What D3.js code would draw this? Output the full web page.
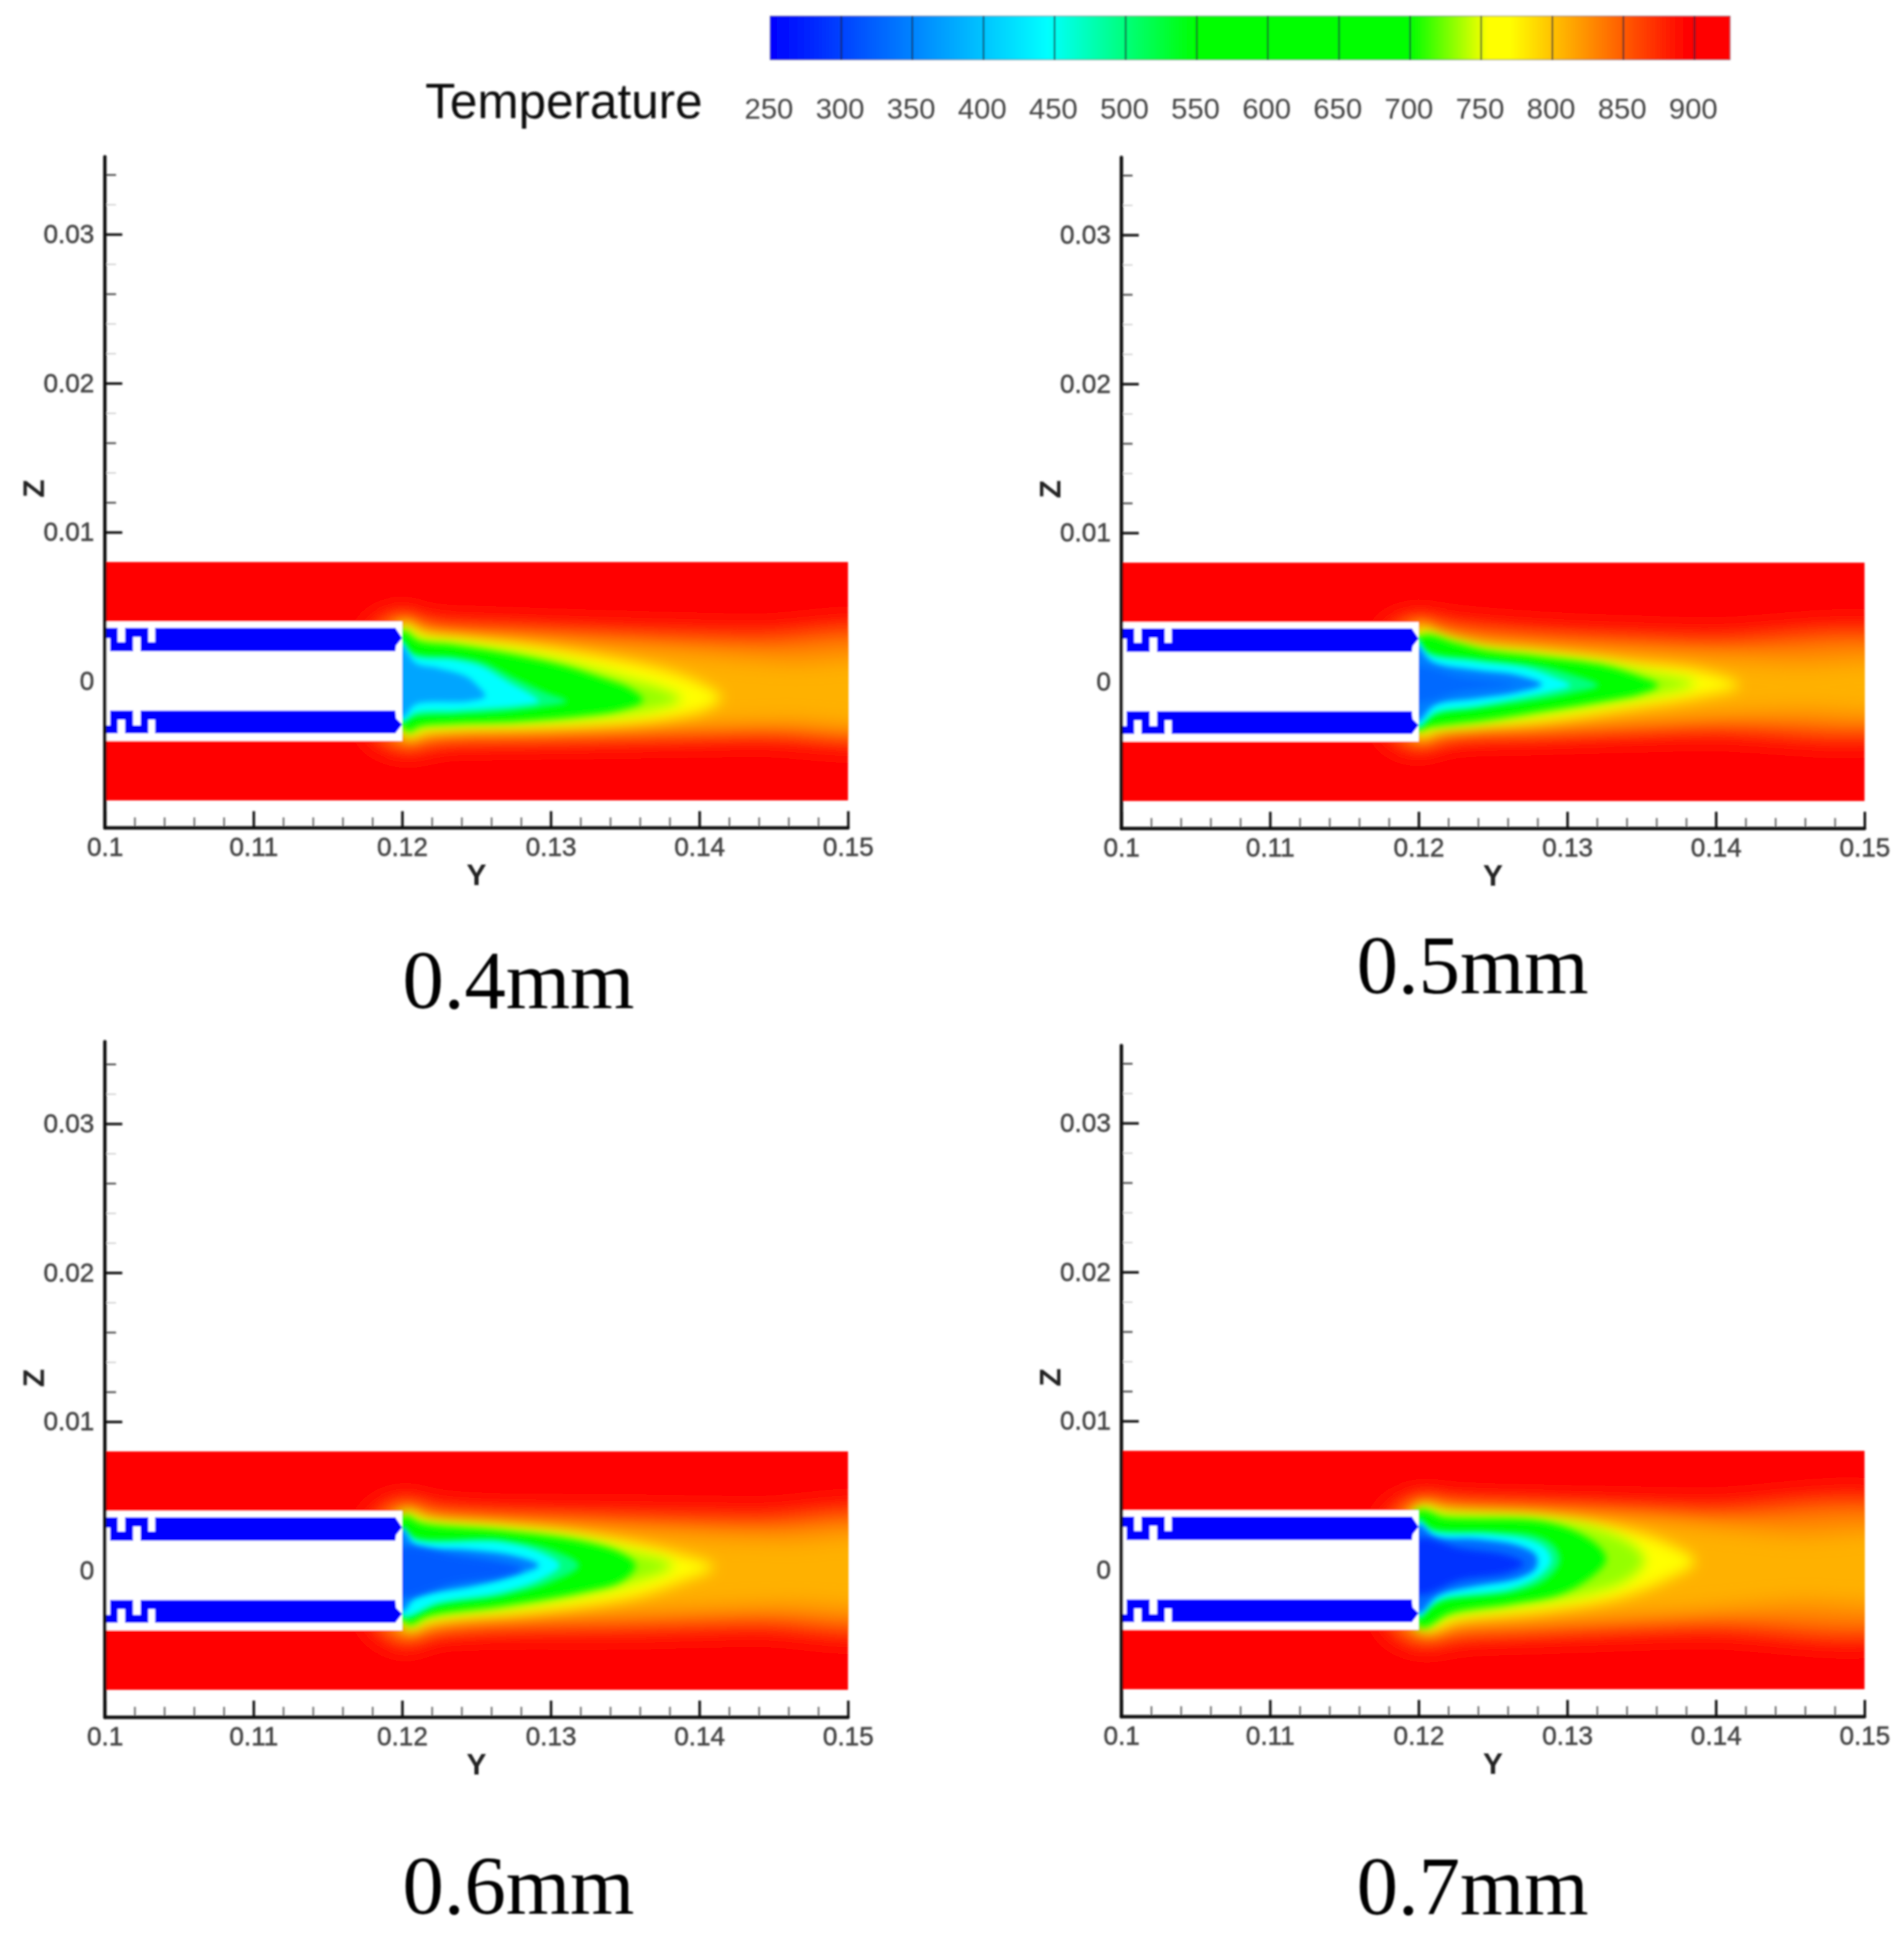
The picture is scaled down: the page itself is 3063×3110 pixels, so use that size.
<!DOCTYPE html>
<html><head><meta charset="utf-8">
<script src="https://cdn.jsdelivr.net/npm/d3@7"></script>
<style>html,body{margin:0;padding:0;background:#fff}svg{display:block}</style>
</head><body><div id="chart"></div>
<script>
// ---------- data ----------
const legendTicks=[250,300,350,400,450,500,550,600,650,700,750,800,850,900];
const legendMax=925;
const colorKnotsT=[250,445,550,700,755,770,895];
const colorKnotsC=["#0000ff","#00ffff","#00ff00","#00ff00","#ffff00","#ffff00","#ff0000"];
const xTicks=[0.10,0.11,0.12,0.13,0.14,0.15];
const xTickLabels=["0.1","0.11","0.12","0.13","0.14","0.15"];
const xMinor=[0.102,0.104,0.106,0.108,0.112,0.114,0.116,0.118,0.122,0.124,0.126,0.128,0.132,0.134,0.136,0.138,0.142,0.144,0.146,0.148];
const zTicks=[0,0.01,0.02,0.03];
const zTickLabels=["0","0.01","0.02","0.03"];
const zMinorDark=[0.034,0.026,0.016,0.012];
const zMinorFaint=[0.032,0.028,0.024,0.022,0.018,0.014];
const captions=["0.4mm","0.5mm","0.6mm","0.7mm"];
// solid geometry, millimetres [y,z]
const hollow=[[100,4],[120,4],[120,-4],[100,-4]];
const fieldBox=[[100,8],[150,8],[150,-8],[100,-8]];
const stripUpper=[[100,3.59],[100.86,3.59],[100.86,2.63],[101.35,2.63],[101.35,3.59],[102.92,3.59],[102.92,2.63],[103.38,2.63],[103.38,3.59],[119.54,3.59],[120,2.9],[119.6,2.4],[119.54,2.0],[102.4,2.0],[102.4,2.96],[101.9,2.96],[101.9,2.0],[100.35,2.0],[100.35,2.88],[100,2.88]];
const stripLower=[[100.35,-1.97],[101.9,-1.97],[101.9,-2.96],[102.4,-2.96],[102.4,-1.97],[119.54,-1.97],[119.6,-2.5],[120,-2.9],[119.54,-3.5],[103.38,-3.5],[103.38,-2.59],[102.92,-2.59],[102.92,-3.5],[101.35,-3.5],[101.35,-2.59],[100.86,-2.59],[100.86,-3.5],[100,-3.5],[100,-2.96],[100.35,-2.96]];
// isotherm outlines, millimetres [y,z]
const A_orange=[[120.1,4.35],[121.5,3.86],[126.7,3.59],[135.2,3.31],[143.7,3.10],[153,2.96],[153,-3.36],[143.7,-3.64],[135.2,-3.78],[124.5,-3.92],[122.4,-3.99],[120.5,-4.48],[118,-3.5],[118,3.5]];
const A_amber=[[120.1,4.2],[120.9,3.59],[123.5,3.1],[128.8,2.82],[135.2,2.27],[141.6,1.71],[145.9,1.36],[153,1.08],[153,-2.67],[145.9,-2.81],[141.6,-2.95],[135.2,-3.22],[128.8,-3.43],[123.5,-3.5],[121.1,-3.71],[120.5,-4.13],[119,-3],[119,3]];
const A_yellow=[[120.1,3.93],[121.3,3.17],[124.5,2.82],[128.8,2.34],[135.2,1.29],[138.4,0.5],[140.4,-0.3],[141.5,-1.07],[140.4,-1.9],[138.4,-2.4],[135.2,-2.81],[128.8,-3.09],[123.5,-3.23],[121.1,-3.5],[120.5,-3.92],[119,0]];
const A_lime=[[120,3.59],[121.1,2.89],[123.5,2.59],[127.7,1.99],[131.4,1.22],[135.2,0.18],[137.5,-0.51],[138.8,-1.21],[137.2,-1.83],[133.1,-2.46],[127.7,-2.81],[123.5,-2.95],[121.1,-3.16],[120.5,-3.57],[120,-3.22],[119,0]];
const A_green=[[120,3.38],[121.1,2.68],[123.5,2.4],[127.7,1.71],[130.9,1.01],[133.5,0.18],[135.2,-0.44],[136.2,-1.28],[134.8,-1.9],[132,-2.32],[127.7,-2.67],[123.5,-2.81],[121.1,-3.02],[120.5,-3.36],[120,-3.02],[119,0]];
const A_spring=[[119.8,2.89],[120.7,1.92],[123.5,1.64],[125.4,1.29],[127.5,0.25],[129.6,-0.72],[131.1,-1.35],[129.2,-1.77],[126.2,-2.11],[123.5,-2.25],[120.9,-2.39],[119.9,-2.81],[119,0.1]];
const A_cyan=[[119.8,2.68],[120.7,1.71],[123.5,1.43],[125.3,1.01],[127.1,-0.03],[128.6,-0.86],[129.2,-1.35],[127.9,-1.63],[125.6,-1.83],[123.5,-1.97],[120.9,-2.11],[119.9,-2.67],[119,0]];
const A_core=[[119.9,2.47],[120.9,1.22],[122.4,0.88],[124.3,0.32],[125.2,-0.44],[125.6,-1.0],[124.5,-1.35],[120.9,-1.56],[120,-2.46],[119,0.1]];
const A_deep=[];
const B_orange=[[120.2,4.14],[121.7,3.86],[128.1,3.31],[138.8,2.89],[153,2.61],[153,-2.81],[138.8,-3.22],[128.1,-3.5],[121.7,-3.78],[120.2,-4.34],[118,-3.5],[118,3.5]];
const B_amber=[[120.1,4.0],[121.1,3.38],[123.8,2.75],[128.1,2.4],[134.5,1.98],[140.9,1.56],[145.2,1.29],[153,1.01],[153,-1.7],[145.2,-1.97],[140.9,-2.18],[134.5,-2.67],[128.1,-3.09],[123.8,-3.22],[121.1,-3.57],[120.2,-4.06],[119,-3],[119,3]];
const B_yellow=[[120.1,3.73],[121.1,3.03],[123.8,2.27],[128.1,1.92],[134.5,1.22],[138.8,0.75],[141.6,-0.24],[138.8,-1.0],[134.5,-1.7],[128.1,-2.67],[123.8,-2.95],[121.1,-3.22],[120.1,-3.78],[119,0]];
const B_lime=[[120.1,3.17],[122.6,2.72],[124.5,2.27],[128.1,1.85],[132.4,1.29],[135.6,0.6],[138.6,-0.1],[135.6,-0.93],[132.4,-1.49],[128.1,-2.18],[124.5,-2.74],[122.6,-2.95],[120.6,-3.16],[120,-3.36],[119,0]];
const B_green=[[120.1,3.03],[122.6,2.54],[124.5,2.06],[128.1,1.65],[132.4,1.08],[134.9,0.32],[136.1,-0.24],[134.9,-0.79],[132.4,-1.28],[128.1,-1.97],[124.5,-2.53],[122.6,-2.74],[120.6,-3.02],[120,-3.22],[119,0]];
const B_spring=[[119.8,3.03],[120.6,2.06],[123.8,1.57],[128.1,1.08],[130.2,0.53],[132.1,-0.24],[130.2,-0.79],[128.1,-1.21],[123.8,-1.83],[121.1,-2.25],[119.8,-3.16],[119,0]];
const B_cyan=[[119.8,2.82],[120.6,1.85],[123.8,1.36],[127.2,0.95],[128.9,0.39],[130.2,-0.24],[128.9,-0.65],[127.2,-1.0],[123.8,-1.63],[121.1,-2.04],[119.9,-2.95],[119,0]];
const B_core=[[119.8,2.47],[120.9,1.36],[123.8,0.81],[126.6,0.46],[128.3,-0.17],[126.6,-0.72],[123.8,-1.14],[121.1,-1.56],[119.9,-2.67],[119,0]];
const B_deep=[[119.6,0.95],[122.8,0.32],[126.4,-0.17],[122.8,-0.65],[119.6,-1.28]];
const C_orange=[[120.3,4.6],[121.5,4.18],[124.5,3.84],[135.2,3.7],[143.7,3.56],[153,3.42],[153,-3.53],[143.7,-3.67],[135.2,-3.88],[124.5,-3.95],[121.5,-4.23],[120.6,-4.85],[118,-3.5],[118,3.5]];
const C_amber=[[120.3,4.32],[121.5,3.66],[124.5,3.42],[130.9,3.07],[135.2,2.72],[141.6,2.31],[145.9,2.17],[153,1.96],[153,-2.07],[145.9,-2.35],[141.6,-2.49],[135.2,-2.77],[128.8,-3.11],[123.5,-3.53],[121.3,-3.88],[120.5,-4.36],[119,-3],[119,3]];
const C_yellow=[[120.3,3.91],[121.5,3.35],[126.7,2.93],[130.9,2.52],[135.2,1.89],[138.6,1.1],[141,0.25],[138.6,-0.8],[135.2,-1.86],[128.8,-2.77],[123.5,-3.18],[121.3,-3.6],[120.5,-4.02],[119,0]];
const C_lime=[[120.1,3.84],[121.3,3.35],[126.7,2.82],[132,2.17],[135.2,1.33],[138.2,0.36],[135.2,-0.89],[132,-1.65],[126.7,-2.56],[121.7,-3.18],[120.5,-3.81],[120,-3.32],[119,0]];
const C_green=[[120.1,3.63],[121.3,3.14],[126.7,2.65],[132,1.96],[134.8,1.13],[135.7,0.36],[134.8,-0.68],[132,-1.45],[126.7,-2.35],[121.7,-3.04],[120.5,-3.6],[120,-3.18],[119,0]];
const C_spring=[[119.8,3.07],[120.9,2.24],[126.7,2.1],[130.1,1.4],[131.9,0.36],[130.1,-0.75],[126.7,-1.72],[122.4,-2.35],[119.9,-3.18],[119,0]];
const C_cyan=[[119.9,2.79],[120.9,2.03],[126.7,1.89],[129.4,1.19],[130.6,0.36],[129.4,-0.54],[126.7,-1.45],[122.4,-2.14],[120,-2.97],[119,0]];
const C_core=[[120,2.79],[120.9,1.68],[124.5,1.4],[127.3,1.06],[129.2,0.36],[127.3,-0.4],[124.5,-1.1],[120.9,-1.79],[120,-2.77],[119,0]];
const C_deep=[[119.9,1.54],[123.5,1.06],[126.7,0.57],[128.1,0.15],[126.7,-0.4],[123.5,-0.89],[119.9,-1.72],[119,0]];
const D_orange=[[120.2,4.74],[121.7,4.53],[128.1,4.32],[138.8,4.11],[153,3.84],[153,-3.6],[138.8,-3.88],[128.1,-4.23],[122.8,-4.43],[120.2,-4.85],[118,-3.7],[118,3.7]];
const D_amber=[[120.1,4.62],[121.7,4.28],[128.1,4.0],[134.5,3.57],[140.9,2.87],[145.2,2.45],[153,2.1],[153,-1.86],[145.2,-2.21],[138.8,-2.77],[132.4,-3.18],[126,-3.6],[121.7,-3.88],[120.4,-4.43],[119,-3],[119,3]];
const D_yellow=[[120.1,4.25],[121.7,3.84],[128.1,3.49],[133.4,2.79],[136.6,1.82],[138.6,0.57],[136.6,-0.68],[133.4,-1.86],[128.1,-2.77],[122.8,-3.32],[120.4,-4.02],[119,0]];
const D_lime=[[120.1,4.18],[121.3,3.84],[128.1,3.49],[132.4,2.64],[134.6,1.54],[135.2,0.57],[134,-0.68],[131.1,-1.65],[126,-2.49],[121.7,-3.18],[120.6,-3.88],[120.1,-3.95],[119,0]];
const D_green=[[120,3.96],[120.9,3.82],[121.5,3.54],[128.1,3.27],[130.7,2.5],[132.3,1.39],[132.6,0.64],[131.5,-0.54],[129.4,-1.65],[126,-2.28],[122.1,-2.9],[120.6,-3.77],[120.1,-3.81],[119,0]];
const D_spring=[[119.9,3.49],[120.9,2.79],[124.9,2.59],[127.9,2.31],[129.2,1.54],[129.5,0.57],[128.7,-0.54],[126.6,-1.45],[121.7,-2.07],[120.9,-2.49],[119.9,-3.32],[119,0]];
const D_cyan=[[119.9,3.28],[120.9,2.59],[124.9,2.38],[127.4,2.03],[128.6,1.4],[128.9,0.57],[128.1,-0.4],[126.2,-1.24],[121.7,-1.86],[120.9,-2.28],[119.9,-3.11],[119,0]];
const D_core=[[120,3.07],[121.1,2.24],[123.8,2.1],[126.6,1.68],[127.9,0.99],[127.9,0.15],[126.8,-0.54],[123.8,-1.1],[121.3,-1.72],[120,-2.91],[119,0]];
const D_deep=[[119.9,2.1],[122.8,1.47],[126,0.99],[127.1,0.43],[126,-0.19],[122.8,-0.68],[119.9,-1.65],[119,0]];
const bandT=[832,808,760,732,690,497,445];   // temperature of the seven outer bands
const coreT=[[376],[346,330],[349,319],[334,288]]; // core temperatures per panel
const panelLines=[
 [A_orange,A_amber,A_yellow,A_lime,A_green,A_spring,A_cyan,A_core,A_deep],
 [B_orange,B_amber,B_yellow,B_lime,B_green,B_spring,B_cyan,B_core,B_deep],
 [C_orange,C_amber,C_yellow,C_lime,C_green,C_spring,C_cyan,C_core,C_deep],
 [D_orange,D_amber,D_yellow,D_lime,D_green,D_spring,D_cyan,D_core,D_deep]];

// ---------- layout ----------
const W=3063,H=3110;
const panels=[
 {left:168.7,zero:1096,zMax:0.0352,capX:834,capY:1622},
 {left:1804,zero:1097,zMax:0.0352,capX:2369,capY:1598},
 {left:168.7,zero:2527,zMax:0.0355,capX:834,capY:3079},
 {left:1804,zero:2526,zMax:0.0352,capX:2369,capY:3080}];
const pxPerX=23910,pxPerZ=23970,zMin=-0.00985;
const blurs=[22,18,11,10,6,5,4,5,6];
const sans="'Liberation Sans',Arial,sans-serif";

const color=d3.scaleLinear().domain(colorKnotsT).range(colorKnotsC).clamp(true);
const svg=d3.select("#chart").append("svg").attr("width",W).attr("height",H).attr("viewBox",[0,0,W,H]);
svg.append("rect").attr("width",W).attr("height",H).attr("fill","#fff");
const defs=svg.append("defs");
[...new Set(blurs)].forEach(s=>{
 defs.append("filter").attr("id","b"+s).attr("x","-20%").attr("y","-30%").attr("width","140%").attr("height","160%")
  .append("feGaussianBlur").attr("stdDeviation",s);
});
const soft=defs.append("filter").attr("id","soft").attr("filterUnits","userSpaceOnUse").attr("x",0).attr("y",0).attr("width",W).attr("height",H);
soft.append("feGaussianBlur").attr("stdDeviation",1.4);

const root=svg.append("g").attr("filter","url(#soft)");

// ---------- legend ----------
const lx=d3.scaleLinear().domain([250,900]).range([1239,2726]);
const grad=defs.append("linearGradient").attr("id","bar").attr("gradientUnits","userSpaceOnUse")
 .attr("x1",lx(250)).attr("x2",lx(legendMax)).attr("y1",0).attr("y2",0);
[...colorKnotsT,legendMax].forEach(t=>grad.append("stop").attr("offset",(t-250)/(legendMax-250)).attr("stop-color",color(t)));
const lg=root.append("g");
lg.append("rect").attr("x",lx(250)).attr("y",26).attr("width",lx(legendMax)-lx(250)).attr("height",70)
 .attr("fill","url(#bar)").attr("stroke","#556").attr("stroke-opacity",0.45).attr("stroke-width",2);
lg.selectAll("line").data(legendTicks.slice(1)).join("line")
 .attr("x1",d=>lx(d)).attr("x2",d=>lx(d)).attr("y1",26).attr("y2",96)
 .attr("stroke","#123").attr("stroke-opacity",0.8).attr("stroke-width",2.5);
lg.selectAll("text").data(legendTicks).join("text").attr("x",d=>lx(d)-2).attr("y",191)
 .attr("text-anchor","middle").attr("font-family",sans).attr("font-size",47).attr("fill","#454545").text(d=>d);
lg.append("text").attr("x",684).attr("y",190).attr("font-family",sans).attr("font-size",79.5).attr("fill","#111").text("Temperature");

// ---------- panels ----------
panels.forEach((p,i)=>{
 const x=d3.scaleLinear().domain([0.10,0.15]).range([p.left,p.left+0.05*pxPerX]);
 const z=d3.scaleLinear().domain([zMin,p.zMax]).range([p.zero-zMin*pxPerZ,p.zero-p.zMax*pxPerZ]);
 const mm=d3.line().x(d=>x(d[0]/1000)).y(d=>z(d[1]/1000));
 const smooth=d3.line().x(d=>x(d[0]/1000)).y(d=>z(d[1]/1000)).curve(d3.curveCatmullRomClosed.alpha(0.5));
 const g=root.append("g");
 const clipId="clip"+i;
 defs.append("clipPath").attr("id",clipId).append("path").attr("d",mm(fieldBox)+"Z");

 // axes
 const bottomY=z(zMin);
 const axisStyle=(s,colorStr,w)=>{s.selectAll("line").attr("stroke",colorStr).attr("stroke-width",w);s.select(".domain").remove();};
 const xMin=g.append("g").attr("transform",`translate(0,${bottomY})`).call(d3.axisBottom(x).tickValues(xMinor).tickSize(-17).tickFormat(""));
 axisStyle(xMin,"#777",3);
 const zMinD=g.append("g").attr("transform",`translate(${p.left},0)`).call(d3.axisLeft(z).tickValues(zMinorDark).tickSize(-18).tickFormat(""));
 axisStyle(zMinD,"#555",3);
 const zMinF=g.append("g").attr("transform",`translate(${p.left},0)`).call(d3.axisLeft(z).tickValues(zMinorFaint).tickSize(-18).tickFormat(""));
 axisStyle(zMinF,"#ccc",2);
 const xAx=g.append("g").attr("transform",`translate(0,${bottomY})`)
  .call(d3.axisBottom(x).tickValues(xTicks).tickSize(-27).tickPadding(15).tickFormat((d,k)=>xTickLabels[k]));
 const zAx=g.append("g").attr("transform",`translate(${p.left},0)`)
  .call(d3.axisLeft(z).tickValues(zTicks).tickSize(-28).tickPadding(18).tickFormat((d,k)=>zTickLabels[k]));
 [xAx,zAx].forEach(a=>{
  a.selectAll("line").attr("stroke","#111").attr("stroke-width",4);
  a.select(".domain").remove();
  a.selectAll("text").attr("font-family",sans).attr("font-size",42).attr("fill","#454545").attr("stroke","#454545").attr("stroke-width",0.8);
 });
 zAx.selectAll("text").attr("x",-17);
 g.append("line").attr("x1",p.left).attr("x2",x(0.15)).attr("y1",bottomY).attr("y2",bottomY).attr("stroke","#111").attr("stroke-width",5.5).attr("stroke-linecap","round");

 // field
 const f=g.append("g").attr("clip-path",`url(#${clipId})`);
 f.append("path").attr("d",mm(fieldBox)+"Z").attr("fill",color(900));
 const temps=bandT.concat(coreT[i]);
 panelLines[i].forEach((line,k)=>{
  if(!line.length||temps[k]===undefined) return;
  f.append("path").attr("d",smooth(line)).attr("fill",color(temps[k])).attr("filter",`url(#b${blurs[k]})`);
 });
 g.append("path").attr("d",mm(hollow)+"Z").attr("fill","#fff");
 [stripUpper,stripLower].forEach(s=>g.append("path").attr("d",mm(s)+"Z").attr("fill",color(250)));
 g.append("line").attr("x1",p.left).attr("x2",p.left).attr("y1",z(p.zMax)).attr("y2",bottomY).attr("stroke","#111").attr("stroke-width",5.5).attr("stroke-linecap","round");

 // titles
 g.append("text").attr("x",x(0.125)).attr("y",1424-1096+p.zero).attr("text-anchor","middle").attr("font-family",sans).attr("font-weight","bold").attr("font-size",48).attr("fill","#222").text("Y");
 g.append("text").attr("transform",`translate(${p.left-98},${p.zero-310}) rotate(-90)`).attr("text-anchor","middle").attr("font-family",sans).attr("font-weight","bold").attr("font-size",48).attr("fill","#222").text("Z");
 g.append("text").attr("x",p.capX).attr("y",p.capY).attr("text-anchor","middle").attr("font-family","'Liberation Serif','Times New Roman',serif").attr("font-size",133).attr("fill","#000").text(captions[i]);
});
</script></body></html>
